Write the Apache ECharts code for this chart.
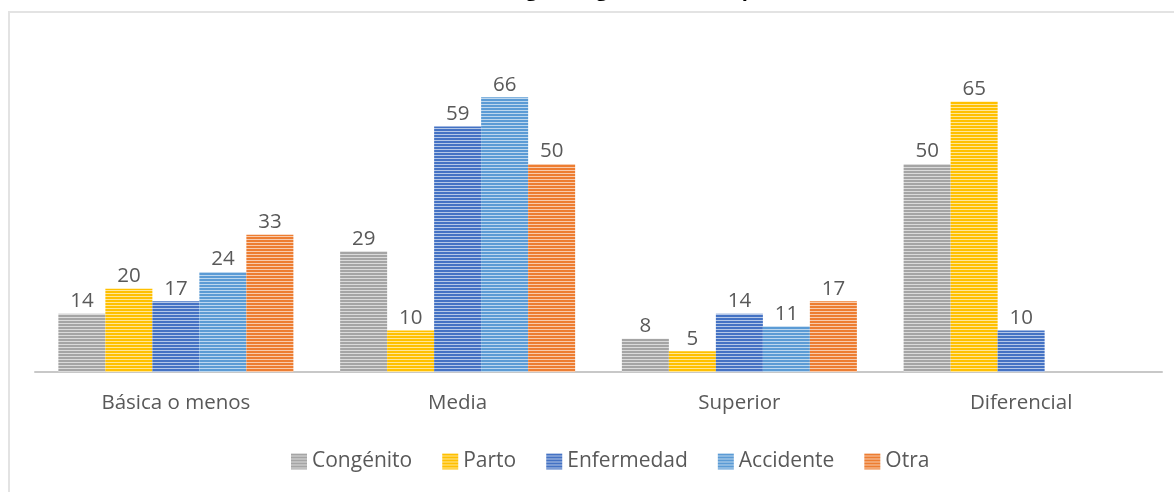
<!DOCTYPE html>
<html>
<head>
<meta charset="utf-8">
<script src="https://cdn.jsdelivr.net/npm/echarts@6/dist/echarts.min.js"></script>
<style>
  html, body { margin: 0; padding: 0; background: #fff; }
  #chart { width: 1174px; height: 492px; }
</style>
</head>
<body>
<div id="chart"></div>
<script>
// Education level by origin of the disability (percent of each origin group)
const categories = ['Básica o menos', 'Media', 'Superior', 'Diferencial'];
const seriesNames = ['Congénito', 'Parto', 'Enfermedad', 'Accidente', 'Otra'];
const congenito  = [14, 29, 8, 50];
const parto      = [20, 10, 5, 65];
const enfermedad = [17, 59, 14, 10];
const accidente  = [24, 66, 11, null];
const otra       = [33, 50, 17, null];
const chartTitle = 'Nivel educacional según origen de la discapacidad (% del total)';

const seriesValues = [congenito, parto, enfermedad, accidente, otra];
const baseColors = ['#a5a5a5', '#ffc000', '#4472c4', '#5b9bd5', '#ed7d31'];

// Horizontal stripe fill: two rows of the base colour, one lighter row
function stripe(hex) {
  const c = document.createElement('canvas');
  c.width = 4; c.height = 3;
  const ctx = c.getContext('2d');
  ctx.fillStyle = hex;
  ctx.fillRect(0, 0, 4, 2);
  const r = parseInt(hex.slice(1, 3), 16), g = parseInt(hex.slice(3, 5), 16), b = parseInt(hex.slice(5, 7), 16);
  const mix = v => Math.round(v + (255 - v) * 0.6);
  ctx.fillStyle = `rgb(${mix(r)},${mix(g)},${mix(b)})`;
  ctx.fillRect(0, 2, 4, 1);
  return { image: c, repeat: 'repeat' };
}

const font = '"Open Sans", "Noto Sans", sans-serif';
const chart = echarts.init(document.getElementById('chart'), null, { renderer: 'canvas' });

chart.setOption({
  animation: false,
  backgroundColor: '#ffffff',
  title: {
    text: chartTitle,
    right: 223,
    top: -25,
    textStyle: { fontFamily: font, fontSize: 20, fontWeight: 'bold', color: '#000000' }
  },
  graphic: [{
    type: 'rect',
    shape: { x: 9, y: 12, width: 1200, height: 500 },
    style: { fill: 'none', stroke: '#e3e3e3', lineWidth: 2 },
    silent: true
  }],
  legend: {
    data: seriesNames,
    left: 286,
    top: 446,
    itemWidth: 16,
    itemHeight: 16,
    itemGap: 30,
    textStyle: { fontFamily: font, fontSize: 21, color: '#595959' },
    icon: 'rect'
  },
  grid: { left: 35, right: 12, top: 39, bottom: 120, containLabel: false },
  xAxis: {
    type: 'category',
    data: categories,
    axisLine: { show: true, lineStyle: { color: '#c8c8c8', width: 2 } },
    axisTick: { show: false },
    axisLabel: { fontFamily: font, fontSize: 20.5, color: '#595959', margin: 21 }
  },
  yAxis: {
    type: 'value',
    min: 0,
    max: 80,
    show: false,
    splitLine: { show: false }
  },
  series: seriesNames.map((name, i) => ({
    name: name,
    type: 'bar',
    data: seriesValues[i],
    barWidth: 47,
    barGap: '0%',
    itemStyle: { color: stripe(baseColors[i]) },
    label: {
      show: true,
      position: 'top',
      distance: 2,
      fontFamily: font,
      fontSize: 20.5,
      color: '#595959'
    }
  }))
});
</script>
</body>
</html>
